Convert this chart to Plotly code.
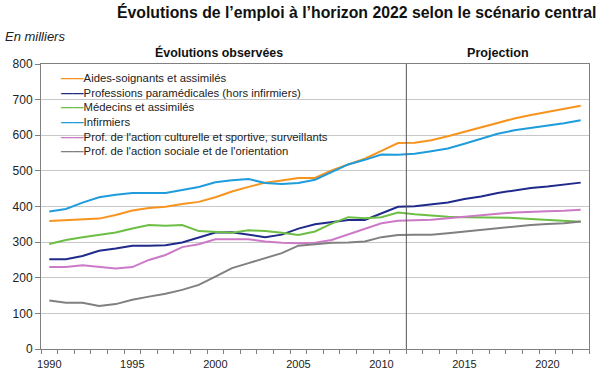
import plotly.graph_objects as go

years = list(range(1990, 2023))
last_observed_year = 2011

series_names = [
    "Aides-soignants et assimilés",
    "Professions paramédicales (hors infirmiers)",
    "Médecins et assimilés",
    "Infirmiers",
    "Prof. de l'action culturelle et sportive, surveillants",
    "Prof. de l'action sociale et de l'orientation",
]

aides_soignants = [359, 361, 363, 366, 376, 389, 396, 399, 407, 413, 426, 442, 455, 467, 473, 480, 480,
                   501, 518, 534, 556, 578, 579, 586, 597, 610, 623, 634, 647, 657, 665, 675, 683]
paramedicales = [252, 252, 261, 276, 282, 290, 290, 291, 299, 314, 327, 328, 321, 314, 321, 338, 350,
                 356, 362, 362, 381, 399, 401, 405, 411, 421, 428, 438, 445, 452, 456, 462, 467]
medecins = [295, 306, 314, 321, 327, 338, 348, 346, 348, 331, 329, 326, 333, 331, 326, 320, 330,
            352, 370, 367, 370, 383, 378, 374, 371, 370, 370, 370, 368, 365, 363, 361, 357]
infirmiers = [386, 393, 411, 426, 433, 438, 438, 438, 446, 455, 468, 474, 477, 466, 463, 466, 475,
              497, 518, 531, 546, 545, 548, 555, 563, 576, 591, 604, 614, 620, 627, 634, 642]
culturelle_sportive = [230, 230, 235, 230, 226, 230, 250, 264, 286, 294, 308, 308, 308, 302, 298, 297, 298,
                       306, 322, 336, 353, 360, 361, 363, 367, 372, 377, 380, 383, 386, 387, 388, 391]
action_sociale = [136, 130, 130, 121, 126, 138, 147, 155, 166, 180, 203, 227, 241, 255, 269, 290, 295,
                  298, 299, 302, 314, 320, 321, 321, 325, 330, 334, 339, 344, 348, 351, 353, 358]

series_values = [aides_soignants, paramedicales, medecins, infirmiers, culturelle_sportive, action_sociale]
colors = ["#F7941E", "#1F2A8A", "#6DBE45", "#1E9CDB", "#CC79C8", "#808080"]

x_tick_labels = [1990, 1995, 2000, 2005, 2010, 2015, 2020]
y_tick_values = list(range(0, 801, 100))

FONT = "Arial, Liberation Sans, sans-serif"

fig = go.Figure()
for name, vals, col in zip(series_names, series_values, colors):
    fig.add_trace(go.Scatter(x=years, y=vals, mode="lines", name=name,
                             line=dict(color=col, width=2), showlegend=False))

fig.update_layout(
    width=600, height=376,
    margin=dict(l=41, r=11, t=64, b=27, autoexpand=False),
    paper_bgcolor="white", plot_bgcolor="white",
    font=dict(family=FONT, color="#222222", size=11),
    xaxis=dict(range=[years[0] - 0.5, years[-1] + 0.5], tickvals=x_tick_labels,
               ticks="", showgrid=False, zeroline=False, ticklabelstandoff=5, automargin=False,
               showline=True, linecolor="#808080", linewidth=1, mirror=True,
               tickfont=dict(size=11, color="#222222"),
               minor=dict(tick0=years[0] - 0.5, dtick=1, ticks="outside", ticklen=4,
                          tickcolor="#808080", showgrid=False)),
    yaxis=dict(range=[0, 800], tickvals=y_tick_values, ticks="outside", ticklen=5,
               tickcolor="#808080", showgrid=True, gridcolor="#C8C8C8", gridwidth=1,
               zeroline=False, showline=True, linecolor="#808080", linewidth=1, mirror=True,
               automargin=False, tickfont=dict(size=12, color="#222222")),
)

# separation between observed data and projection
fig.add_shape(type="line", xref="x", yref="paper", x0=last_observed_year + 0.5,
              x1=last_observed_year + 0.5, y0=0, y1=1, line=dict(color="#555555", width=1))

fig.add_annotation(text="<b>Évolutions de l’emploi à l’horizon 2022 selon le scénario central</b>",
                   xref="paper", yref="paper", x=(356 - 41) / 548, y=1 + (64 - 12) / 285,
                   xanchor="center", yanchor="middle", showarrow=False,
                   font=dict(size=15.8, color="#111111", family=FONT))
fig.add_annotation(text="<i>En milliers</i>", xref="paper", yref="paper",
                   x=(3 - 41) / 548, y=1 + (64 - 37) / 285, xanchor="left", yanchor="middle",
                   showarrow=False, font=dict(size=13, color="#222222", family=FONT))
fig.add_annotation(text="<b>Évolutions observées</b>", xref="paper", yref="paper",
                   x=(219 - 41) / 548, y=1 + (64 - 52.5) / 285, xanchor="center", yanchor="middle",
                   showarrow=False, font=dict(size=12.4, color="#111111", family=FONT))
fig.add_annotation(text="<b>Projection</b>", xref="paper", yref="paper",
                   x=(498 - 41) / 548, y=1 + (64 - 52.5) / 285, xanchor="center", yanchor="middle",
                   showarrow=False, font=dict(size=12.6, color="#111111", family=FONT))

legend_lines = [f"<span style='color:{c}'><b>——</b></span>{n}" for n, c in zip(series_names, colors)]
fig.add_annotation(text="<br>".join(legend_lines), xref="paper", yref="paper",
                   x=(59 - 41) / 548, y=(349 - 70) / 285, xanchor="left", yanchor="top",
                   align="left", showarrow=False,
                   font=dict(size=11.3, color="#222222", family=FONT))

fig.write_html("out.html", config={"displayModeBar": False},
               post_script="document.body.style.margin='0px';")
